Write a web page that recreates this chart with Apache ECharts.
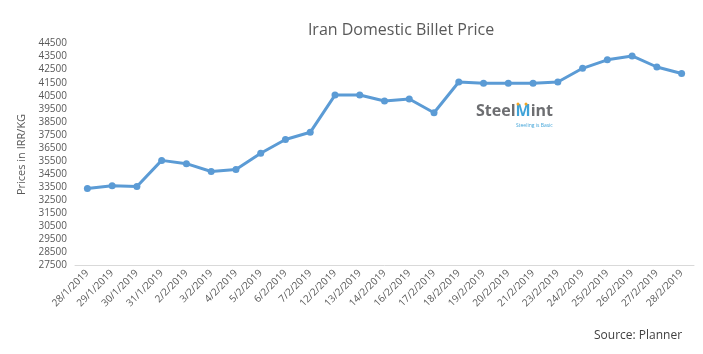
<!DOCTYPE html>
<html>
<head>
<meta charset="utf-8">
<script src="https://cdn.jsdelivr.net/npm/echarts@6/dist/echarts.min.js"></script>
<style>
  html, body { margin: 0; padding: 0; background: #fff; }
  #chart { width: 703px; height: 354px; }
</style>
</head>
<body>
<div id="chart"></div>
<script>
// dates on the x axis
var dates = ['28/1/2019', '29/1/2019', '30/1/2019', '31/1/2019', '2/2/2019', '3/2/2019', '4/2/2019',
  '5/2/2019', '6/2/2019', '7/2/2019', '12/2/2019', '13/2/2019', '14/2/2019', '16/2/2019', '17/2/2019',
  '18/2/2019', '19/2/2019', '20/2/2019', '21/2/2019', '23/2/2019', '24/2/2019', '25/2/2019',
  '26/2/2019', '27/2/2019', '28/2/2019'];
// billet price, IRR/KG
var prices = [33400, 33600, 33550, 35550, 35300, 34700, 34850, 36100, 37150, 37700,
  40550, 40550, 40100, 40250, 39200, 41550, 41450, 41450, 41450, 41550, 42600, 43250,
  43550, 42700, 42200];
var yMin = 27500;
var yMax = 44500;
var yStep = 1000;

var chart = echarts.init(document.getElementById('chart'));
var font = '"Open Sans", "Liberation Sans", sans-serif';
var option = {
  backgroundColor: '#fff',
  animation: false,
  title: {
    text: 'Iran Domestic Billet Price',
    left: 396,
    top: 17,
    textAlign: 'center',
    textStyle: { fontFamily: font, fontSize: 16, fontWeight: 'normal', color: '#595959' }
  },
  grid: { left: 75, right: 9, top: 43.5, bottom: 88.5 },
  xAxis: {
    type: 'category',
    data: dates,
    boundaryGap: true,
    axisLine: { lineStyle: { color: '#d9d9d9', width: 1 } },
    axisTick: { show: false },
    axisLabel: {
      rotate: 45, interval: 0, margin: 6,
      fontFamily: font, fontSize: 10, color: '#595959'
    }
  },
  yAxis: {
    type: 'value',
    min: yMin, max: yMax, interval: yStep,
    name: 'Prices in IRR/KG',
    nameLocation: 'middle',
    nameGap: 47,
    nameTextStyle: { fontFamily: font, fontSize: 11, color: '#595959' },
    axisLine: { show: false },
    axisTick: { show: false },
    splitLine: { show: false },
    axisLabel: {
      fontFamily: font, fontSize: 10, color: '#595959', margin: 8,
      formatter: function (v) { return String(v); }
    }
  },
  series: [{
    type: 'line',
    data: prices,
    symbol: 'circle',
    symbolSize: 7,
    lineStyle: { color: '#5b9bd5', width: 3 },
    itemStyle: { color: '#5b9bd5' }
  }],
  graphic: [
    {
      type: 'text', left: 594, top: 330,
      style: { text: 'Source: Planner', font: '12px ' + font, fill: '#404040' }
    },
    {
      type: 'text', left: 476, top: 103,
      style: {
        text: '{s|Steel}{m|M}{s|int}',
        rich: {
          s: { font: 'bold 16px ' + font, fill: '#6d6e71' },
          m: { font: 'bold 16px ' + font, fill: '#3fa3d8' }
        }
      }
    },
    {
      type: 'text', left: 516, top: 123,
      style: { text: 'Steeling is Basic', font: '5px ' + font, fill: '#3fa3d8' }
    },
    { type: 'circle', shape: { cx: 518, cy: 104, r: 1.5 }, style: { fill: '#f5a623' } },
    { type: 'circle', shape: { cx: 526, cy: 104, r: 1.5 }, style: { fill: '#f5a623' } }
  ]
};
chart.setOption(option);
</script>
</body>
</html>
